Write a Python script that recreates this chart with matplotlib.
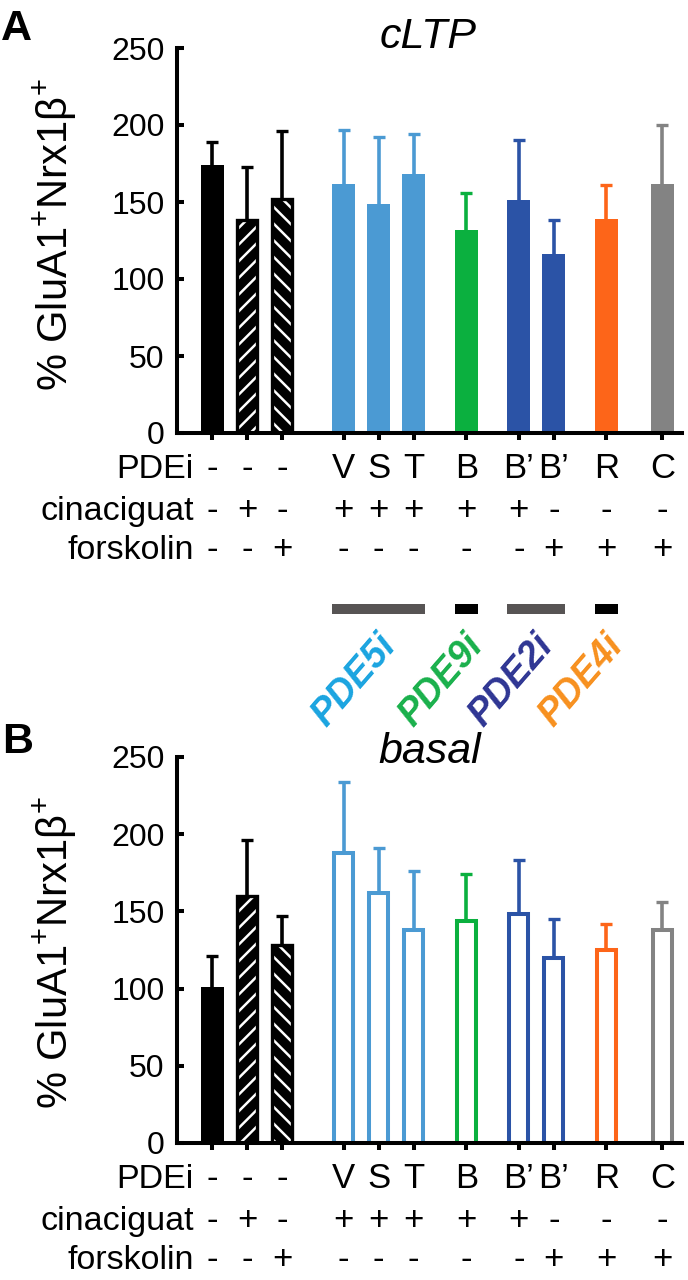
import matplotlib
matplotlib.use('Agg')
import matplotlib.pyplot as plt
import numpy as np

plt.rcParams['font.family'] = ['Liberation Sans', 'DejaVu Sans']
plt.rcParams['mathtext.fontset'] = 'custom'
plt.rcParams['mathtext.rm'] = 'Liberation Sans'
plt.rcParams['mathtext.it'] = 'Liberation Sans:italic'
plt.rcParams['mathtext.bf'] = 'Liberation Sans:bold'
plt.rcParams['hatch.linewidth'] = 1.8

# ---------------- data ----------------
pdei = ['-', '-', '-', 'V', 'S', 'T', 'B', 'B\u2019', 'B\u2019', 'R', 'C']
cinaciguat = ['-', '+', '-', '+', '+', '+', '+', '+', '-', '-', '-']
forskolin = ['-', '-', '+', '-', '-', '-', '-', '-', '+', '+', '+']

ltp_mean = [174, 138, 152, 162, 149, 168, 132, 151, 116, 139, 162]
ltp_upper = [189, 173, 196, 197, 192, 194, 156, 190, 138, 161, 200]
basal_mean = [101, 160, 128, 188, 162, 138, 144, 148, 120, 125, 138]
basal_upper = [121, 196, 147, 234, 191, 176, 174, 183, 145, 142, 156]

groups = ['PDE5i', 'PDE9i', 'PDE2i', 'PDE4i']
group_members = [(3, 5), (6, 6), (7, 8), (9, 9)]

# ---------------- layout / style ----------------
x_pos = [0, 1, 2, 3.75, 4.75, 5.75, 7.25, 8.75, 9.75, 11.25, 12.85]
bar_colors = ['black', 'black', 'black', '#4b9ad3', '#4b9ad3', '#4b9ad3',
              '#0bb03f', '#2b53a6', '#2b53a6', '#fd6519', '#838383']
hatches = [None, '//', '\\\\'] + [None] * 8
group_line_colors = ['#575454', 'black', '#575454', 'black']
group_text_colors = ['#1aa4e0', '#19b04b', '#2e3593', '#f7901e']

fig = plt.figure(figsize=(6.88, 12.8), dpi=100)
ax_top = fig.add_axes([177 / 688, 1 - 433 / 1280, 505 / 688, 385 / 1280])
ax_bot = fig.add_axes([177 / 688, 1 - 1143 / 1280, 505 / 688, 386 / 1280])


def draw_panel(ax, means, uppers, hollow, ax_px):
    for i, (x, m, u) in enumerate(zip(x_pos, means, uppers)):
        c = bar_colors[i]
        eb = ax.errorbar(x, m, yerr=[[0], [u - m]], fmt='none', ecolor=c,
                         elinewidth=2.6, capsize=4.3, capthick=2.4, zorder=1)
        # only the upper cap is wanted
        for cap in eb[1]:
            if np.isclose(cap.get_ydata()[0], m):
                cap.set_visible(False)
        if hatches[i]:
            ax.bar(x, m, width=0.57, facecolor='black', edgecolor='white',
                   hatch=hatches[i], linewidth=0, zorder=2)
            ax.bar(x, m, width=0.57, facecolor='none', edgecolor='black',
                   linewidth=2.4, zorder=2)
        elif hollow and i > 0:
            ax.bar(x, m, width=0.54, facecolor='white', edgecolor=c,
                   linewidth=2.9, zorder=2)
        else:
            ax.bar(x, m, width=0.66, color=c, linewidth=0, zorder=2)

    ax.set_xlim(-1.01, 13.41)
    ax.set_ylim(0, 250)
    ax.set_yticks([0, 50, 100, 150, 200, 250])
    ax.set_xticks(x_pos)
    for s in ['top', 'right']:
        ax.spines[s].set_visible(False)
    for s in ['left', 'bottom']:
        ax.spines[s].set_linewidth(2.9)
    ax.tick_params(axis='y', direction='in', length=5, width=2.9,
                   labelsize=23, pad=9)
    ax.tick_params(axis='x', direction='out', length=5, width=2.9,
                   labelbottom=False)

    # condition table under the bars
    tr = ax.get_xaxis_transform()
    rows = [('PDEi', pdei, 45), ('cinaciguat', cinaciguat, 87),
            ('forskolin', forskolin, 126)]
    for name, vals, off in rows:
        y = -off / ax_px
        ax.text(-0.53, y, name, transform=tr, ha='right', va='baseline',
                fontsize=24.5, clip_on=False)
        for x, v in zip(x_pos, vals):
            ax.text(x, y, v, transform=tr, ha='center', va='baseline',
                    fontsize=25, clip_on=False)


draw_panel(ax_top, ltp_mean, ltp_upper, False, 385)
draw_panel(ax_bot, basal_mean, basal_upper, True, 386)

# PDE family bars and labels (panel A)
tr = ax_top.get_xaxis_transform()
for name, (a, b), lc, tc in zip(groups, group_members, group_line_colors,
                                group_text_colors):
    x0 = x_pos[a] - 0.33
    x1 = x_pos[b] + 0.33
    ax_top.plot([x0, x1], [-176 / 385, -176 / 385], transform=tr,
                color=lc, lw=7.2, solid_capstyle='butt', clip_on=False)
    ax_top.text((x0 + x1) / 2 - 0.7, -248 / 385, name, transform=tr,
                rotation=49, ha='center', va='center', fontsize=27,
                fontweight='bold', style='italic', color=tc, clip_on=False)

# titles, y labels, panel letters
fig.text(428 / 688, 1 - 48 / 1280, 'cLTP', style='italic', fontsize=31,
         ha='center', va='baseline')
fig.text(430 / 688, 1 - 763 / 1280, 'basal', style='italic', fontsize=31,
         ha='center', va='baseline')
ylab = '% GluA1$^{+}$Nrx1\u03b2$^{+}$'
fig.text(55 / 688, 1 - 235 / 1280, ylab, rotation=90, fontsize=30,
         ha='center', va='center')
fig.text(55 / 688, 1 - 953 / 1280, ylab, rotation=90, fontsize=30,
         ha='center', va='center')
fig.text(1 / 688, 1 - 40 / 1280, 'A', fontsize=31, fontweight='bold',
         ha='left', va='baseline')
fig.text(2 / 688, 1 - 753 / 1280, 'B', fontsize=31, fontweight='bold',
         ha='left', va='baseline')

fig.savefig('out.png', dpi=100)
